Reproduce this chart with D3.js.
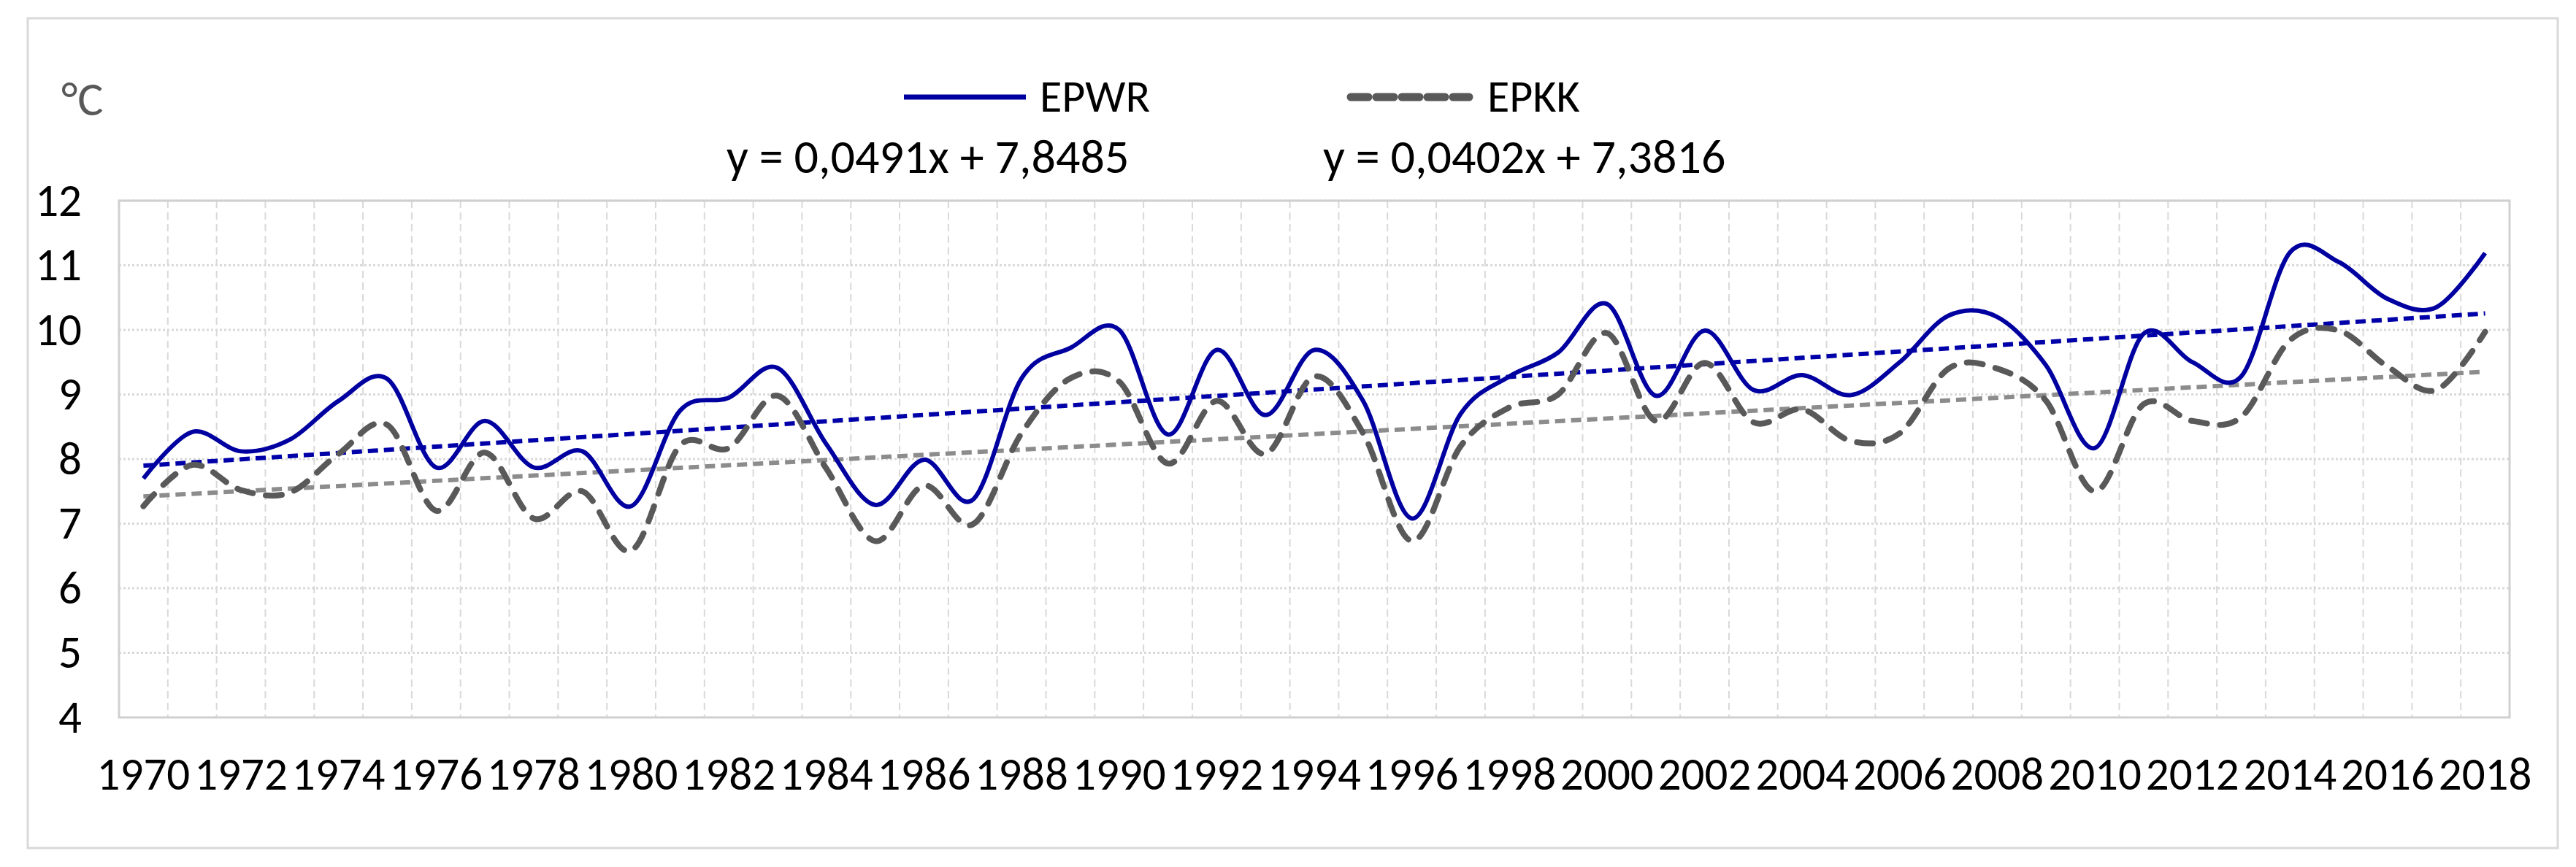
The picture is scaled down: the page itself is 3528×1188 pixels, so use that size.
<!DOCTYPE html>
<html>
<head>
<meta charset="utf-8">
<script src="https://cdn.jsdelivr.net/npm/d3@7"></script>
<style>
  body { margin: 0; background: #fff; }
  svg { display: block; }
  text { font-family: Carlito, Calibri, Lato, sans-serif; }
</style>
</head>
<body>
<svg id="chart" width="3528" height="1188"></svg>
<script>
// values
var years = d3.range(1970, 2019);

var epwr = [7.7, 8.42, 8.12, 8.3, 8.9, 9.24, 7.87, 8.59, 7.87, 8.12,
            7.27, 8.75, 8.95, 9.41, 8.23, 7.29, 7.99, 7.37, 9.25, 9.72,
            10.0, 8.38, 9.69, 8.68, 9.69, 8.9, 7.08, 8.7, 9.28, 9.65,
            10.4, 8.98, 9.99, 9.07, 9.3, 8.99, 9.5, 10.22, 10.2, 9.45,
            8.17, 9.94, 9.5, 9.28, 11.2, 11.05, 10.48, 10.35, 11.19];

var epkk = [7.27, 7.91, 7.52, 7.48, 8.08, 8.53, 7.2, 8.1, 7.08, 7.5,
            6.58, 8.21, 8.17, 8.98, 7.85, 6.73, 7.59, 6.99, 8.4, 9.25,
            9.2, 7.93, 8.9, 8.08, 9.28, 8.4, 6.73, 8.2, 8.8, 9.0,
            9.95, 8.59, 9.49, 8.57, 8.77, 8.28, 8.4, 9.4, 9.4, 8.9,
            7.5, 8.85, 8.59, 8.65, 9.84, 9.99, 9.43, 9.07, 9.97];

var seriesNames = ['EPWR', 'EPKK'];
var trendSlope = [0.0491, 0.0402];
var trendIntercept = [7.8485, 7.3816];
var trendLabels = ['y = 0,0491x + 7,8485', 'y = 0,0402x + 7,3816'];

var yTicks = [4, 5, 6, 7, 8, 9, 10, 11, 12];
var xTicks = years.filter(function (d) { return (d - 1970) % 2 === 0; });

var svg = d3.select('svg#chart');
var W = 3528, H = 1188;
var plot = { left: 163, right: 3437, top: 275, bottom: 983 };
var font = 'Carlito, Calibri, Lato, sans-serif';

svg.append('rect').attr('width', W).attr('height', H).attr('fill', '#fff');

// outer chart border
svg.append('rect')
    .attr('x', 38).attr('y', 25)
    .attr('width', 3503 - 38).attr('height', 1162 - 25)
    .attr('fill', 'none')
    .attr('stroke', '#d9d9d9')
    .attr('stroke-width', 3);

var x = d3.scaleBand().domain(years).range([plot.left, plot.right]).padding(0);
var y = d3.scaleLinear().domain([4, 12]).range([plot.bottom, plot.top]);
function cx(yr) { return x(yr) + x.bandwidth() / 2; }

// gridlines
var grid = svg.append('g').attr('class', 'grid');
grid.selectAll('line.h')
    .data(yTicks.slice(1))
    .enter().append('line')
    .attr('class', 'h')
    .attr('x1', plot.left).attr('x2', plot.right)
    .attr('y1', function (d) { return y(d); })
    .attr('y2', function (d) { return y(d); })
    .attr('stroke', '#d9d9d9')
    .attr('stroke-width', 3)
    .attr('stroke-dasharray', '3,3');

grid.selectAll('line.v')
    .data(years.slice(1))
    .enter().append('line')
    .attr('class', 'v')
    .attr('x1', function (d) { return x(d); })
    .attr('x2', function (d) { return x(d); })
    .attr('y1', plot.top).attr('y2', plot.bottom)
    .attr('stroke', '#d9d9d9')
    .attr('stroke-width', 2)
    .attr('stroke-dasharray', '10,6');

// plot area border
svg.append('rect')
    .attr('x', plot.left).attr('y', plot.top)
    .attr('width', plot.right - plot.left).attr('height', plot.bottom - plot.top)
    .attr('fill', 'none')
    .attr('stroke', '#d0d0d0')
    .attr('stroke-width', 3);

// axes
var yAxis = svg.append('g')
    .attr('transform', 'translate(112,0)')
    .call(d3.axisLeft(y).tickValues(yTicks).tickSize(0).tickPadding(0));
yAxis.select('.domain').remove();
yAxis.selectAll('text')
    .attr('font-size', 63)
    .attr('fill', '#000')
    .attr('font-family', font);

var xAxis = svg.append('g')
    .attr('transform', 'translate(0,1037)')
    .call(d3.axisBottom(x).tickValues(xTicks).tickSize(0).tickPadding(0));
xAxis.select('.domain').remove();
xAxis.selectAll('text')
    .attr('font-size', 63)
    .attr('fill', '#000')
    .attr('font-family', font);

// trend lines
var trendColors = ['#0000a8', '#8c8c8c'];
trendSlope.forEach(function (s, k) {
    var pts = [years[0], years[years.length - 1]].map(function (yr) {
        return [cx(yr), y(s * (yr - 1969) + trendIntercept[k])];
    });
    svg.append('path')
        .attr('d', d3.line()(pts))
        .attr('fill', 'none')
        .attr('stroke', trendColors[k])
        .attr('stroke-width', 6)
        .attr('stroke-dasharray', '14,8');
});

// series lines
var line = d3.line()
    .x(function (d, i) { return cx(years[i]); })
    .y(function (d) { return y(d); })
    .curve(d3.curveCardinal.tension(0));

svg.append('path')
    .datum(epkk)
    .attr('d', line)
    .attr('fill', 'none')
    .attr('stroke', '#595959')
    .attr('stroke-width', 8)
    .attr('stroke-linecap', 'round')
    .attr('stroke-dasharray', '22,18');

svg.append('path')
    .datum(epwr)
    .attr('d', line)
    .attr('fill', 'none')
    .attr('stroke', '#0000a0')
    .attr('stroke-width', 6);

// legend
var legend = svg.append('g');
legend.append('line')
    .attr('x1', 1238).attr('x2', 1405).attr('y1', 133).attr('y2', 133)
    .attr('stroke', '#0000a0').attr('stroke-width', 7);
legend.append('line')
    .attr('x1', 1850).attr('x2', 2012).attr('y1', 133).attr('y2', 133)
    .attr('stroke', '#595959').attr('stroke-width', 11)
    .attr('stroke-linecap', 'round').attr('stroke-dasharray', '24,11');
[1424, 2037].forEach(function (lx, k) {
    legend.append('text')
        .attr('x', lx).attr('y', 153)
        .attr('font-size', 62)
        .attr('fill', '#000')
        .text(seriesNames[k]);
});

// trendline equations
[995, 1812].forEach(function (lx, k) {
    svg.append('text')
        .attr('x', lx).attr('y', 237)
        .attr('font-size', 66)
        .attr('fill', '#000')
        .text(trendLabels[k]);
});

// unit label
svg.append('text')
    .attr('x', 84).attr('y', 158)
    .attr('font-size', 66)
    .attr('fill', '#595959')
    .text('°C');
</script>
</body>
</html>
